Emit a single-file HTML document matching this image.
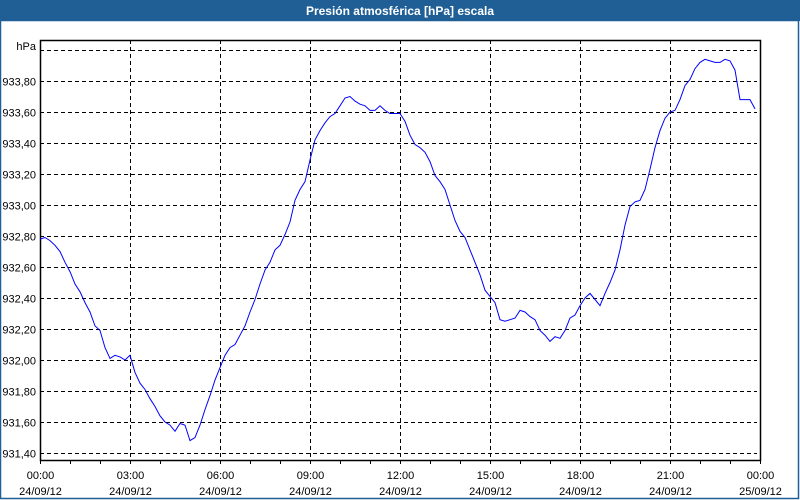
<!DOCTYPE html>
<html><head><meta charset="utf-8">
<style>
html,body{margin:0;padding:0;background:#fff;}
#wrap{position:relative;width:800px;height:500px;overflow:hidden;font-family:"Liberation Sans",sans-serif;}
svg text{font-family:"Liberation Sans",sans-serif;}
</style></head>
<body>
<div id="wrap">
<svg id="chart" width="800" height="500" xmlns="http://www.w3.org/2000/svg">
  <rect x="0" y="0" width="800" height="500" fill="#ffffff"/>
  <rect x="0" y="0" width="800" height="21" fill="#1f5f96"/>
  <text x="400" y="15" text-anchor="middle" fill="#ffffff" font-size="12" font-weight="bold">Presión atmosférica [hPa] escala</text>
  <rect x="0.5" y="20.5" width="798" height="478" fill="none" stroke="#1f5f96" stroke-width="1.5"/>
  <g id="grid"></g>
  <g id="axes"></g>
  <text x="36" y="50" text-anchor="end" font-size="11" fill="#000">hPa</text>
  <g id="series"></g>
</svg>
</div>
<script>
const yTicks = [931.40,931.60,931.80,932.00,932.20,932.40,932.60,932.80,933.00,933.20,933.40,933.60,933.80,934.00];
const yLabeledMax = 933.80;
const xTickHours = [0,3,6,9,12,15,18,21,24];
const xTickTimes = ["00:00","03:00","06:00","09:00","12:00","15:00","18:00","21:00","00:00"];
const xTickDates = ["24/09/12","24/09/12","24/09/12","24/09/12","24/09/12","24/09/12","24/09/12","24/09/12","25/09/12"];
const sampleMinutes = 10;
const pressure = [
932.78,932.79,932.77,932.74,932.70,932.63,932.57,932.49,932.44,932.37,
932.31,932.22,932.19,932.08,932.01,932.03,932.02,932.00,932.03,931.92,
931.85,931.81,931.75,931.70,931.64,931.60,931.58,931.54,931.59,931.58,
931.48,931.50,931.58,931.68,931.77,931.87,931.95,932.03,932.08,932.10,
932.16,932.22,932.31,932.39,932.49,932.58,932.63,932.71,932.74,932.81,
932.89,933.03,933.10,933.15,933.29,933.42,933.48,933.53,933.57,933.59,
933.64,933.69,933.70,933.67,933.65,933.64,933.61,933.61,933.64,933.61,
933.59,933.59,933.59,933.54,933.45,933.39,933.37,933.34,933.28,933.19,
933.15,933.10,933.00,932.90,932.83,932.79,932.71,932.63,932.55,932.45,
932.41,932.37,932.26,932.25,932.26,932.27,932.32,932.31,932.28,932.26,
932.19,932.16,932.12,932.15,932.14,932.19,932.27,932.29,932.35,932.40,
932.43,932.39,932.35,932.43,932.50,932.58,932.71,932.87,932.99,933.02,
933.03,933.10,933.23,933.37,933.48,933.56,933.60,933.61,933.68,933.77,
933.81,933.88,933.92,933.94,933.93,933.92,933.92,933.94,933.93,933.87,
933.68,933.68,933.68,933.62
];
const NS="http://www.w3.org/2000/svg";
const L=40,R=760,T=40,B=460;
function xScale(h){return L+(h/24)*(R-L);}
function yScale(v){return 81+(933.8-v)*155;}
function mk(tag,attrs,parent){const e=document.createElementNS(NS,tag);for(const k in attrs)e.setAttribute(k,attrs[k]);parent.appendChild(e);return e;}
const grid=document.getElementById('grid'),axes=document.getElementById('axes'),series=document.getElementById('series');
yTicks.forEach(v=>{
  const y=Math.round(yScale(v))+0.5;
  const gl=mk('line',{x1:L,x2:R-3,y1:y,y2:y,stroke:'#000','stroke-dasharray':'4,3','stroke-width':1},grid);
  
  
  if(v<=yLabeledMax+1e-6){
    const t=mk('text',{x:36,y:y+4,'text-anchor':'end','font-size':11,fill:'#000'},axes);
    t.textContent=v.toFixed(2).replace('.',',');
    
    
  }
});
xTickHours.forEach((h,i)=>{
  const x=Math.round(xScale(h))+0.5;
  if(h>0&&h<24){
    const gl=mk('line',{x1:x,x2:x,y1:T,y2:B,stroke:'#000','stroke-dasharray':'4,3','stroke-width':1},grid);
    
    
  }
  const t1=mk('text',{x:x,y:479,'text-anchor':'middle','font-size':11,fill:'#000'},axes);
  t1.textContent=xTickTimes[i];
  
  
  const t2=mk('text',{x:x,y:495,'text-anchor':'middle','font-size':11,fill:'#000'},axes);
  t2.textContent=xTickDates[i];
  
  
});
for(let h=0;h<=24;h++){
  const x=Math.round(xScale(h))+0.5;
  const tk=mk('line',{x1:x,x2:x,y1:B,y2:B+4,stroke:'#000','stroke-width':1},axes);
  
  
}
const frame=mk('rect',{x:L+0.5,y:T+0.5,width:R-L,height:B-T,fill:'none',stroke:'#000','stroke-width':1.5},axes);


const pts=pressure.map((v,i)=>xScale(i*sampleMinutes/60).toFixed(1)+','+yScale(v).toFixed(1)).join(' ');
const line=mk('polyline',{points:pts,fill:'none',stroke:'#0000ff','stroke-width':1},series);


</script>
</body></html>
